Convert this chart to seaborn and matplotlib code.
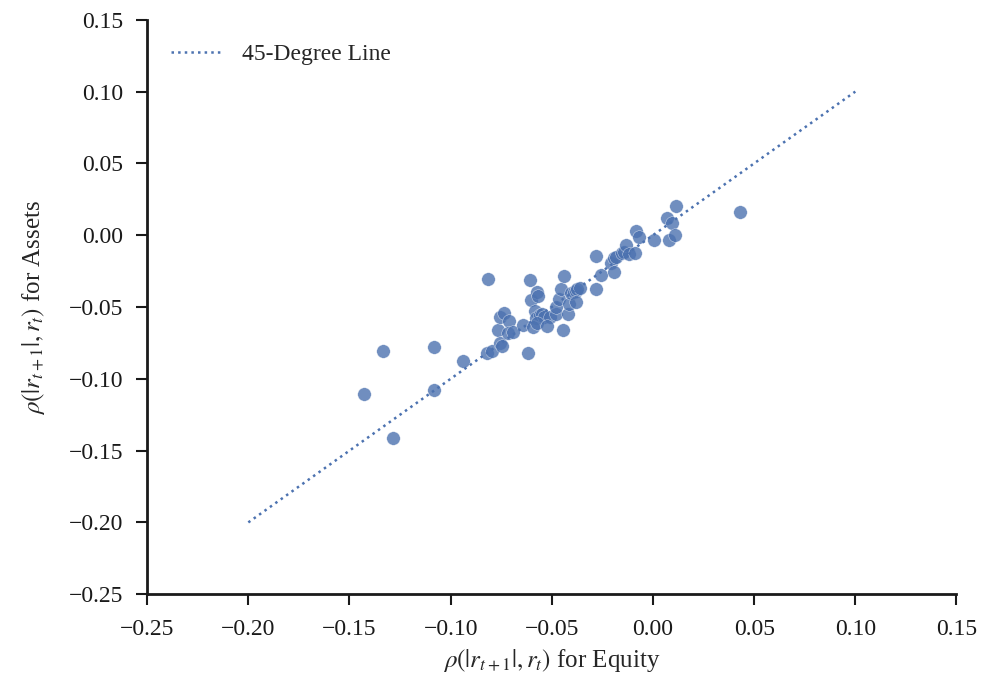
import numpy as np
import pandas as pd
import seaborn as sns
import matplotlib.pyplot as plt

# correlations
equity = [-0.1427, -0.1332, -0.1284, -0.1081, -0.1081, -0.0939, -0.0817, -0.0820,
          -0.0796, -0.0768, -0.0755, -0.0735, -0.0755, -0.0745, -0.0710, -0.0717,
          -0.0694, -0.0644, -0.0620, -0.0610, -0.0605, -0.0575, -0.0567, -0.0582,
          -0.0577, -0.0560, -0.0550, -0.0539, -0.0511, -0.0593, -0.0573, -0.0526,
          -0.0481, -0.0481, -0.0463, -0.0455, -0.0445, -0.0438, -0.0420, -0.0417,
          -0.0404, -0.0392, -0.0380, -0.0375, -0.0362, -0.0380, -0.0280, -0.0280,
          -0.0255, -0.0206, -0.0191, -0.0185, -0.0193, -0.0153, -0.0142, -0.0133,
          -0.0118, -0.0087, -0.0084, -0.0069, 0.0005, 0.0071, 0.0094, 0.0081,
          0.0111, 0.0112, 0.0432]
assets = [-0.1106, -0.0807, -0.1413, -0.0777, -0.1078, -0.0876, -0.0305, -0.0823,
          -0.0805, -0.0658, -0.0568, -0.0544, -0.0751, -0.0772, -0.0598, -0.0679,
          -0.0672, -0.0628, -0.0818, -0.0312, -0.0453, -0.0398, -0.0425, -0.0528,
          -0.0579, -0.0556, -0.0549, -0.0568, -0.0568, -0.0637, -0.0614, -0.0630,
          -0.0547, -0.0498, -0.0442, -0.0377, -0.0658, -0.0282, -0.0549, -0.0481,
          -0.0405, -0.0395, -0.0386, -0.0377, -0.0366, -0.0463, -0.0147, -0.0377,
          -0.0277, -0.0195, -0.0161, -0.0152, -0.0258, -0.0126, -0.0115, -0.0068,
          -0.0129, -0.0124, 0.0028, -0.0012, -0.0033, 0.0122, 0.0087, -0.0035,
          0.0004, 0.0206, 0.0162]

line_x = [-0.20, 0.10]
line_y = [-0.20, 0.10]

ticks = [-0.25, -0.20, -0.15, -0.10, -0.05, 0.00, 0.05, 0.10, 0.15]

df = pd.DataFrame({"equity": equity, "assets": assets})
line_df = pd.DataFrame({"x": line_x, "y": line_y})

sns.set_theme(style="ticks")
plt.rcParams['font.family'] = ['Liberation Serif', 'DejaVu Serif']
plt.rcParams['mathtext.fontset'] = 'stix'

blue = "#4C72B0"

fig = plt.figure(figsize=(9.81, 6.83), dpi=100)
ax = fig.add_axes([0.150, 0.130, 0.825, 0.841])

sns.lineplot(data=line_df, x="x", y="y", ax=ax, color=blue, linestyle=":",
             linewidth=1.8, label="45-Degree Line")
sns.scatterplot(data=df, x="equity", y="assets", ax=ax, color=blue, s=95,
                alpha=0.8, edgecolor="white", linewidth=0.3)

ax.set_xlim(-0.25, 0.15)
ax.set_ylim(-0.25, 0.15)
ax.set_xticks(ticks)
ax.set_yticks(ticks)
ax.set_xticklabels([f"{t:.2f}".replace("-", "\u2212") for t in ticks])
ax.set_yticklabels([f"{t:.2f}".replace("-", "\u2212") for t in ticks])
ax.tick_params(labelsize=17, length=8, width=1.5, direction="out",
               colors="#1a1a1a")
ax.tick_params(axis="x", pad=10)
ax.tick_params(axis="y", pad=9)

ax.set_xlabel(r"$\rho(|r_{t+1}|, r_t)$ for Equity", fontsize=18, labelpad=5)
ax.set_ylabel(r"$\rho(|r_{t+1}|, r_t)$ for Assets", fontsize=18, labelpad=16)

sns.despine(ax=ax)
for side in ["left", "bottom"]:
    ax.spines[side].set_linewidth(2)
    ax.spines[side].set_color("#1a1a1a")

ax.legend(loc="upper left", frameon=False, fontsize=17, handlelength=2.2,
          borderaxespad=0.6)

plt.savefig("out.png", dpi=100)
